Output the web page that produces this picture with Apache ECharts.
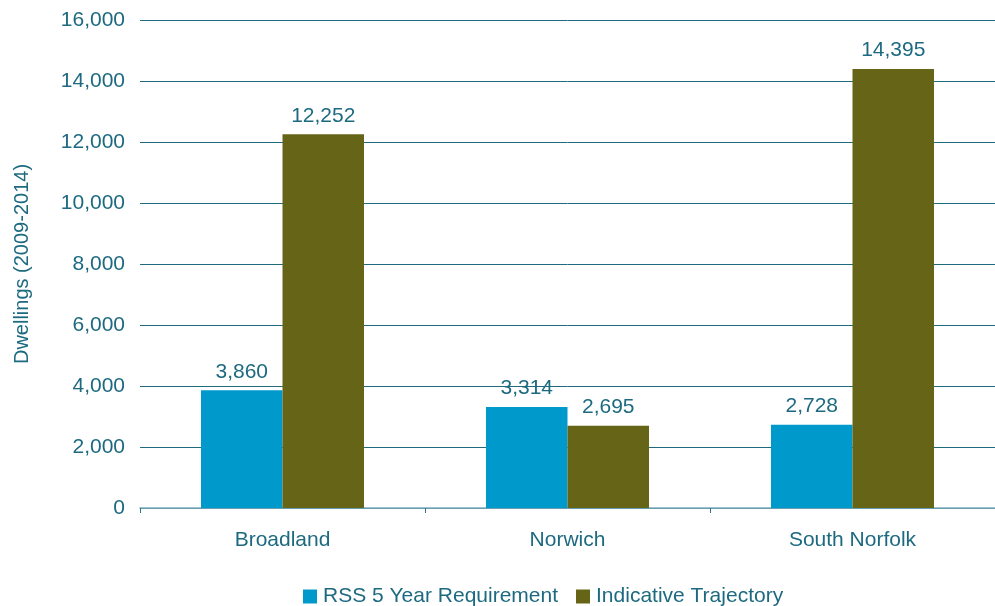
<!DOCTYPE html>
<html><head><meta charset="utf-8">
<script src="https://cdn.jsdelivr.net/npm/echarts@6/dist/echarts.min.js"></script>
<style>html,body{margin:0;padding:0;background:#fff}#c{width:995px;height:606px}</style>
</head><body><div id="c"></div>
<script>
const categories = ['Broadland', 'Norwich', 'South Norfolk'];
const rssRequirement = [3860, 3314, 2728];
const indicativeTrajectory = [12252, 2695, 14395];
const seriesNames = ['RSS 5 Year Requirement', 'Indicative Trajectory'];
const yAxisTitle = 'Dwellings (2009-2014)';

const txt = '#1d6a80';
const font = 'Liberation Sans';
const fs = 21;
const fmt = v => v.toLocaleString('en-US');
const chart = echarts.init(document.getElementById('c'));
chart.setOption({
  animation: false,
  textStyle: { fontFamily: font },
  grid: { left: 140, right: 0, top: 20, bottom: 98, containLabel: false },
  legend: {
    top: 581, left: 298, itemWidth: 14, itemHeight: 14, itemGap: 18,
    icon: 'rect',
    textStyle: { color: txt, fontSize: fs, fontFamily: font, padding: [0, 0, 0, 1] },
    data: seriesNames
  },
  xAxis: {
    type: 'category', data: categories,
    axisLine: { lineStyle: { color: '#7fb0c0', width: 1.5 } },
    axisTick: { show: true, lineStyle: { color: '#2a7890' }, length: 5 },
    axisLabel: { color: txt, fontSize: fs, margin: 22, fontFamily: font }
  },
  yAxis: {
    type: 'value', min: 0, max: 16000, interval: 2000,
    name: yAxisTitle, nameLocation: 'middle', nameGap: 108,
    nameTextStyle: { color: txt, fontSize: 20, fontFamily: font },
    axisLine: { show: false }, axisTick: { show: false },
    splitLine: { lineStyle: { color: '#1f6b7d', width: 1 } },
    axisLabel: { color: txt, fontSize: fs, margin: 15, formatter: v => fmt(v), fontFamily: font }
  },
  series: [
    {
      name: seriesNames[0], type: 'bar', data: rssRequirement,
      barGap: '0%', barCategoryGap: '42.8%',
      itemStyle: { color: '#0099cc' },
      label: { show: true, position: 'top', distance: 8, color: txt, fontSize: fs, formatter: p => fmt(p.value), fontFamily: font }
    },
    {
      name: seriesNames[1], type: 'bar', data: indicativeTrajectory,
      barGap: '0%', barCategoryGap: '42.8%',
      itemStyle: { color: '#656417' },
      label: { show: true, position: 'top', distance: 8, color: txt, fontSize: fs, formatter: p => fmt(p.value), fontFamily: font }
    }
  ]
});
</script></body></html>
